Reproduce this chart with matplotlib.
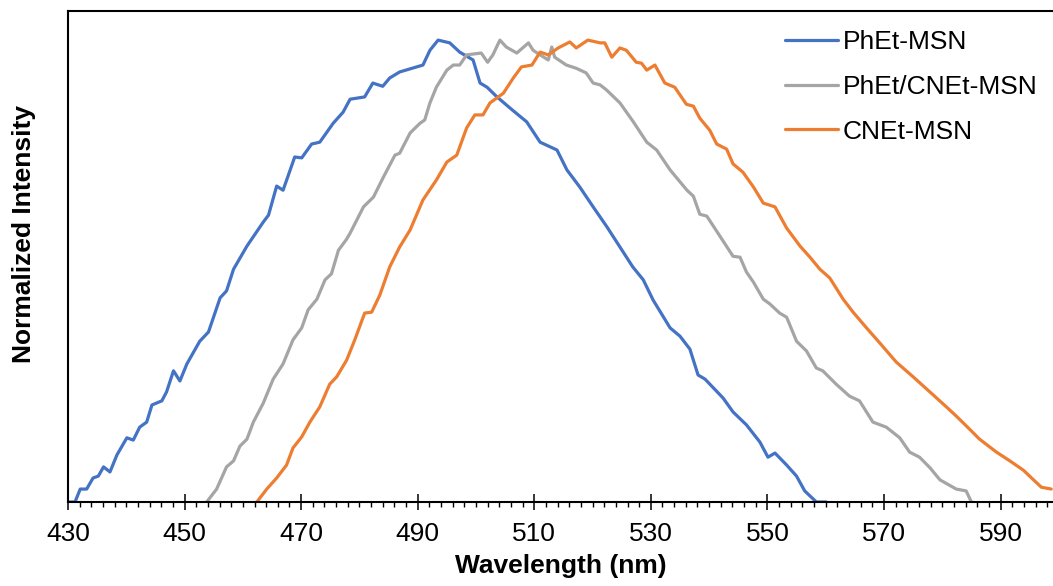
import matplotlib.pyplot as plt
from matplotlib.ticker import FixedLocator, MultipleLocator, NullLocator

plt.rcParams['font.family'] = ['Liberation Sans', 'DejaVu Sans']

# PhEt-MSN (blue)
wl_phet = [430.0, 431.2, 432.1, 433.2, 434.3, 435.2, 436.1, 437.2, 438.4, 440.1,
           441.2, 442.3, 443.5, 444.4, 446.1, 446.9, 448.1, 449.2, 450.4, 452.6,
           454.1, 456.1, 457.2, 458.4, 460.7, 463.5, 464.4, 465.8, 466.9, 468.9,
           470.1, 471.8, 473.2, 475.5, 477.2, 478.4, 480.9, 482.3, 484.0, 485.2,
           486.9, 490.9, 492.1, 493.5, 495.5, 497.2, 499.5, 500.7, 501.9, 503.6,
           506.3, 508.7, 511.0, 513.9, 515.6, 517.8, 520.1, 522.5, 524.7, 526.9,
           528.7, 530.4, 533.3, 535.0, 536.7, 538.1, 539.3, 542.4, 544.1, 546.4,
           548.7, 550.1, 551.3, 553.3, 555.0, 556.4, 558.4, 560.1]
int_phet = [0.000, 0.000, 0.028, 0.028, 0.052, 0.056, 0.076, 0.065, 0.102, 0.139,
            0.134, 0.162, 0.173, 0.210, 0.219, 0.238, 0.284, 0.262, 0.299, 0.348,
            0.368, 0.442, 0.457, 0.504, 0.554, 0.606, 0.621, 0.684, 0.675, 0.747,
            0.745, 0.775, 0.779, 0.820, 0.844, 0.872, 0.877, 0.907, 0.900, 0.918,
            0.931, 0.946, 0.978, 1.000, 0.994, 0.974, 0.957, 0.907, 0.898, 0.877,
            0.848, 0.823, 0.779, 0.762, 0.719, 0.682, 0.639, 0.595, 0.552, 0.509,
            0.481, 0.437, 0.377, 0.359, 0.331, 0.275, 0.266, 0.225, 0.195, 0.167,
            0.130, 0.097, 0.106, 0.080, 0.056, 0.024, 0.000, 0.000]

# PhEt/CNEt-MSN (gray)
wl_mix = [453.8, 455.5, 457.2, 458.4, 459.5, 460.7, 461.8, 463.5, 465.2, 466.9,
          468.6, 470.1, 471.2, 472.7, 474.1, 475.2, 476.4, 477.8, 478.4, 480.7,
          482.4, 484.1, 486.1, 486.9, 488.7, 490.4, 491.2, 492.1, 493.2, 495.0,
          496.1, 497.2, 498.4, 500.9, 502.0, 502.9, 504.1, 505.2, 507.0, 509.0,
          509.8, 511.0, 512.4, 513.0, 513.5, 515.5, 517.2, 518.9, 520.1, 521.3,
          522.4, 524.7, 527.0, 529.3, 531.0, 533.3, 536.2, 537.3, 538.4, 539.6,
          542.4, 544.1, 545.3, 546.4, 547.6, 549.3, 550.4, 552.1, 553.3, 555.0,
          556.7, 558.4, 559.5, 561.8, 564.1, 565.8, 568.1, 570.4, 572.7, 574.4,
          576.1, 577.9, 579.6, 582.4, 584.1, 585.0]
int_mix = [0.000, 0.028, 0.076, 0.089, 0.121, 0.136, 0.173, 0.214, 0.266, 0.299,
           0.351, 0.377, 0.416, 0.439, 0.481, 0.494, 0.545, 0.569, 0.582, 0.639,
           0.660, 0.703, 0.751, 0.755, 0.799, 0.820, 0.827, 0.864, 0.898, 0.935,
           0.946, 0.946, 0.968, 0.972, 0.952, 0.968, 1.000, 0.985, 0.972, 0.994,
           0.978, 0.968, 0.957, 0.985, 0.963, 0.946, 0.939, 0.929, 0.907, 0.903,
           0.892, 0.864, 0.823, 0.779, 0.762, 0.719, 0.675, 0.662, 0.623, 0.619,
           0.565, 0.532, 0.530, 0.498, 0.476, 0.439, 0.429, 0.409, 0.400, 0.348,
           0.327, 0.290, 0.284, 0.255, 0.229, 0.219, 0.173, 0.162, 0.139, 0.108,
           0.097, 0.074, 0.048, 0.028, 0.024, 0.000]

# CNEt-MSN (orange)
wl_cnet = [462.4, 464.1, 465.8, 467.5, 468.6, 470.1, 471.5, 473.2, 474.9, 476.1,
           477.8, 479.2, 480.9, 482.1, 483.5, 485.2, 486.9, 488.7, 490.9, 493.2,
           495.0, 496.7, 498.4, 499.8, 501.2, 502.4, 504.7, 506.4, 507.8, 509.6,
           511.0, 512.4, 514.1, 516.1, 517.2, 519.2, 521.3, 522.1, 523.3, 524.7,
           525.8, 527.5, 528.4, 529.3, 530.7, 532.4, 534.1, 536.1, 537.3, 538.4,
           540.1, 541.3, 543.0, 544.1, 545.8, 547.6, 549.3, 551.3, 553.3, 555.6,
           557.3, 559.0, 560.7, 563.0, 564.7, 567.0, 569.3, 572.1, 575.0, 577.9,
           580.7, 582.4, 584.1, 586.4, 589.3, 591.6, 593.9, 597.0, 598.7]
int_cnet = [0.000, 0.028, 0.052, 0.080, 0.117, 0.141, 0.173, 0.206, 0.255, 0.271,
            0.307, 0.351, 0.409, 0.411, 0.448, 0.509, 0.552, 0.589, 0.654, 0.697,
            0.736, 0.751, 0.810, 0.838, 0.838, 0.864, 0.885, 0.918, 0.942, 0.946,
            0.974, 0.968, 0.983, 0.996, 0.983, 1.000, 0.994, 0.994, 0.963, 0.983,
            0.978, 0.952, 0.950, 0.935, 0.946, 0.907, 0.898, 0.861, 0.857, 0.831,
            0.805, 0.775, 0.764, 0.732, 0.714, 0.682, 0.647, 0.639, 0.593, 0.554,
            0.530, 0.504, 0.485, 0.439, 0.411, 0.377, 0.344, 0.303, 0.271, 0.238,
            0.206, 0.186, 0.165, 0.136, 0.108, 0.089, 0.069, 0.032, 0.028]

x_ticks = [430, 450, 470, 490, 510, 530, 550, 570, 590]

series = [
    ('PhEt-MSN', wl_phet, int_phet, '#4472C4'),
    ('PhEt/CNEt-MSN', wl_mix, int_mix, '#A5A5A5'),
    ('CNEt-MSN', wl_cnet, int_cnet, '#ED7D31'),
]

fig = plt.figure(figsize=(10.53, 5.86), dpi=100)
ax = fig.add_axes([68 / 1053, 1 - 502 / 586, 1 - 68 / 1053, (502 - 11) / 586])

for name, x, y, c in series:
    ax.plot(x, y, color=c, lw=2.3, label=name, solid_joinstyle='round',
            solid_capstyle='round')

ax.set_xlim(430, 599)
ax.set_ylim(0, 1.063)

ax.xaxis.set_major_locator(FixedLocator(x_ticks))
ax.xaxis.set_minor_locator(MultipleLocator(2))
ax.yaxis.set_major_locator(NullLocator())
ax.tick_params(axis='x', which='major', direction='inout', length=11, width=1.1,
               labelsize=19, pad=9)
ax.tick_params(axis='x', which='minor', direction='out', length=3.5, width=1.0)

for s in ['left', 'bottom', 'top']:
    ax.spines[s].set_linewidth(1.5)
ax.spines['right'].set_visible(False)

ax.set_xlabel('Wavelength (nm)', fontsize=19, fontweight='bold', labelpad=6)
ax.set_ylabel('Normalized Intensity', fontsize=19, fontweight='bold')
ax.yaxis.set_label_coords(-0.032, 0.546)

ax.legend(loc='upper left', bbox_to_anchor=(0.717, 0.982), borderaxespad=0,
          frameon=False, fontsize=19, handlelength=2.0, handletextpad=0.2,
          labelspacing=0.78)

fig.savefig('out.png', dpi=100)
